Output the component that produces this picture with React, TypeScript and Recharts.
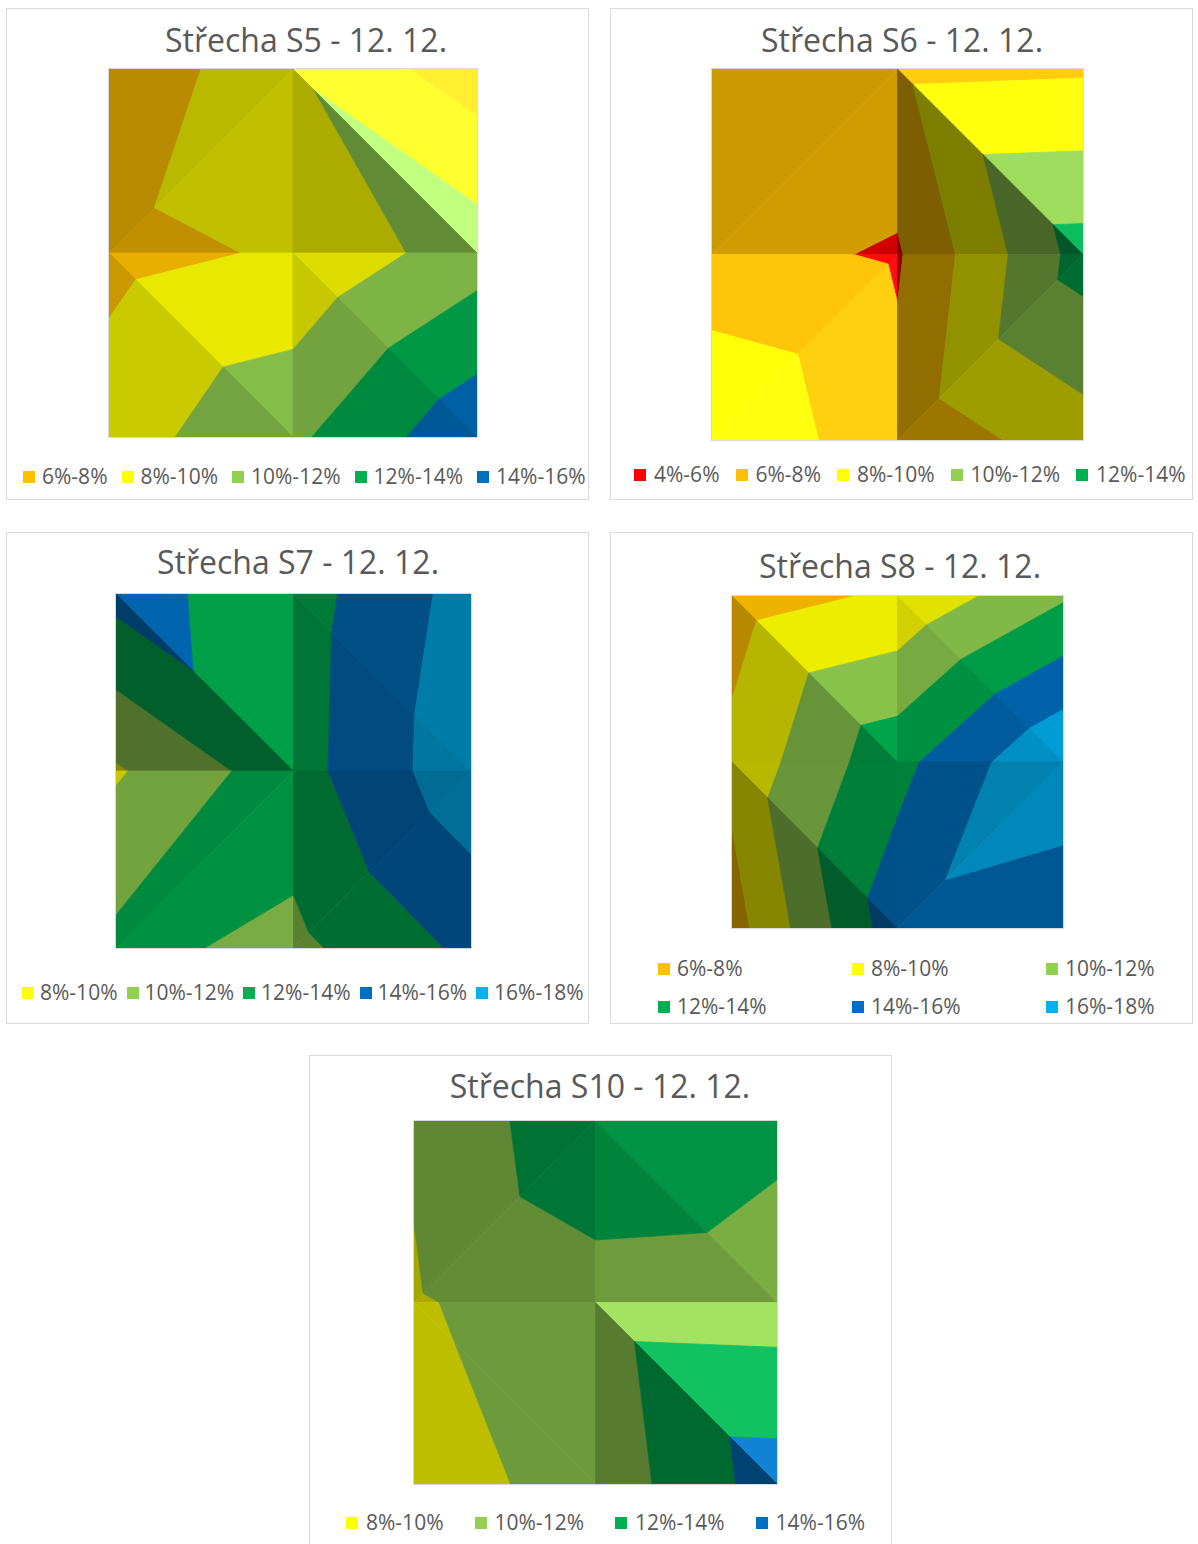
import React from 'react';
import { ScatterChart, Scatter, XAxis, YAxis } from 'recharts';

// Excel surface-chart bands: lower limit (%), colour, legend text
const bandStarts = [4, 6, 8, 10, 12, 14, 16];
const bandColors = ['#FF0000', '#FFC000', '#FFFF00', '#92D050', '#00B050', '#0070C0', '#00B0F0'];
const bandLabels = ['4%-6%', '6%-8%', '8%-10%', '10%-12%', '12%-14%', '14%-16%', '16%-18%'];

// moisture (%), 3 x 3 grid, rows top -> bottom
const s5Values = [
  [6.14, 9.86, 6.93],
  [7.39, 8.24, 11.1],
  [9.1, 11.6, 15.5],
];
const s6Values = [
  [6.4, 7.56, 7.75],
  [6.68, 5.79, 12.85],
  [9.9, 6.59, 9.07],
];
const s7Values = [
  [14.62, 13.08, 16.79],
  [9.77, 13.19, 17.36],
  [12.51, 11.49, 14.46],
];
const s8Values = [
  [7.06, 8.32, 11.75],
  [8.57, 13.4, 17.95],
  [7.14, 15.2, 14.05],
];
const s10Values = [
  [10.25, 13.56, 12.47],
  [9.81, 11.18, 11.02],
  [9.26, 10.65, 14.99],
];

type Diag = 'main' | 'anti';
type Pt = { x: number; y: number; z: number };

type LegendCfg =
  | { kind: 'row'; x: number; cy: number; gap: number; swatchGap: number }
  | { kind: 'grid'; cols: number[]; rows: number[]; swatchGap: number };

interface ChartCfg {
  title: string;
  values: number[][];
  min: number;
  max: number;
  diag: Diag[][];
  panel: { x: number; y: number };
  plot: { x: number; y: number; w: number; h: number };
  titleX: number;
  titleY: number;
  legend: LegendCfg;
}

const charts: ChartCfg[] = [
  {
    title: 'Střecha S5 - 12. 12.',
    values: s5Values,
    min: 6,
    max: 16,
    diag: [['anti', 'main'], ['main', 'main']],
    panel: { x: 6, y: 8 },
    plot: { x: 109, y: 69, w: 368, h: 368 },
    titleX: 306,
    titleY: 41,
    legend: { kind: 'row', x: 23, cy: 477, gap: 14, swatchGap: 7 },
  },
  {
    title: 'Střecha S6 - 12. 12.',
    values: s6Values,
    min: 4,
    max: 14,
    diag: [['anti', 'main'], ['anti', 'anti']],
    panel: { x: 610, y: 8 },
    plot: { x: 712, y: 69, w: 371, h: 371 },
    titleX: 902,
    titleY: 41,
    legend: { kind: 'row', x: 634, cy: 475, gap: 16, swatchGap: 8 },
  },
  {
    title: 'Střecha S7 - 12. 12.',
    values: s7Values,
    min: 8,
    max: 18,
    diag: [['main', 'main'], ['anti', 'anti']],
    panel: { x: 6, y: 532 },
    plot: { x: 116, y: 594, w: 355, h: 354 },
    titleX: 298,
    titleY: 563,
    legend: { kind: 'row', x: 22, cy: 993, gap: 9, swatchGap: 6 },
  },
  {
    title: 'Střecha S8 - 12. 12.',
    values: s8Values,
    min: 6,
    max: 18,
    diag: [['main', 'main'], ['main', 'anti']],
    panel: { x: 610, y: 532 },
    plot: { x: 732, y: 596, w: 331, h: 332 },
    titleX: 900,
    titleY: 567,
    legend: { kind: 'grid', cols: [658, 852, 1046], rows: [969, 1007], swatchGap: 7 },
  },
  {
    title: 'Střecha S10 - 12. 12.',
    values: s10Values,
    min: 8,
    max: 16,
    diag: [['anti', 'main'], ['main', 'main']],
    panel: { x: 309, y: 1055 },
    plot: { x: 414, y: 1121, w: 363, h: 363 },
    titleX: 600,
    titleY: 1087,
    legend: { kind: 'row', x: 346, cy: 1523, gap: 31, swatchGap: 8 },
  },
];

// keep the part of a polygon above (or below) a level, linear z along edges
function clip(poly: Pt[], level: number, above: boolean): Pt[] {
  const out: Pt[] = [];
  const inside = (p: Pt) => (above ? p.z >= level : p.z <= level);
  for (let i = 0; i < poly.length; i++) {
    const a = poly[i];
    const b = poly[(i + 1) % poly.length];
    const ia = inside(a);
    const ib = inside(b);
    if (ia) out.push(a);
    if (ia !== ib) {
      const t = (level - a.z) / (b.z - a.z);
      out.push({ x: a.x + t * (b.x - a.x), y: a.y + t * (b.y - a.y), z: level });
    }
  }
  return out;
}

function hexToRgb(hex: string) {
  const n = parseInt(hex.slice(1), 16);
  return [(n >> 16) & 255, (n >> 8) & 255, n & 255];
}

// rough imitation of Excel's 3D lighting seen from above
function shade(hex: string, f: number) {
  const k = Math.min(f, 1);
  const spec = Math.max(0, f - 0.95) * 1.3 * 255;
  const [r, g, b] = hexToRgb(hex).map((c) => Math.max(0, Math.min(255, Math.round(c * k + spec))));
  return `rgb(${r},${g},${b})`;
}

interface Facet {
  points: { x: number; y: number }[];
  color: string;
}

function buildFacets(c: ChartCfg): Facet[] {
  const facets: Facet[] = [];
  const zScale = 10 / (c.max - c.min);
  const P = (col: number, row: number): Pt => ({ x: col, y: row, z: c.values[row][col] });
  for (let j = 0; j < 2; j++) {
    for (let i = 0; i < 2; i++) {
      const a = P(i, j);
      const b = P(i + 1, j);
      const cc = P(i, j + 1);
      const d = P(i + 1, j + 1);
      const tris = c.diag[j][i] === 'main' ? [[a, b, d], [a, d, cc]] : [[a, b, cc], [b, d, cc]];
      tris.forEach((tri) => {
        const [p, q, r] = tri;
        const ux = q.x - p.x, uy = q.y - p.y, uz = q.z - p.z;
        const vx = r.x - p.x, vy = r.y - p.y, vz = r.z - p.z;
        const nx = uy * vz - uz * vy;
        const ny = uz * vx - ux * vz;
        const nz = ux * vy - uy * vx;
        const gx = (-nx / nz) * zScale;
        const gy = (-ny / nz) * zScale;
        const f = 0.838 - 0.041 * gx + 0.032 * gy;
        for (let lo = c.min; lo < c.max; lo += 2) {
          const part = clip(clip(tri, lo, true), lo + 2, false);
          if (part.length < 3) continue;
          const idx = bandStarts.indexOf(lo);
          facets.push({
            points: part.map((v) => ({ x: v.x, y: v.y })),
            color: shade(bandColors[idx], f),
          });
        }
      });
    }
  }
  return facets;
}

const noDot = () => <g />;

function polygonLine(color: string) {
  return (props: any) => {
    const pts: { x: number; y: number }[] = props.points || [];
    if (!pts.length) return <g />;
    const d = pts.map((p, i) => `${i ? 'L' : 'M'}${p.x},${p.y}`).join(' ') + ' Z';
    return <path d={d} fill={color} stroke={color} strokeWidth={0.8} strokeLinejoin="round" />;
  };
}

const textColor = '#595959';

function LegendItem({ lo, swatchGap }: { lo: number; swatchGap: number }) {
  const idx = bandStarts.indexOf(lo);
  return (
    <div style={{ display: 'flex', alignItems: 'center', whiteSpace: 'nowrap' }}>
      <div style={{ width: 12, height: 12, background: bandColors[idx], marginRight: swatchGap }} />
      <span>{bandLabels[idx]}</span>
    </div>
  );
}

function Panel({ c }: { c: ChartCfg }) {
  const facets = buildFacets(c);
  const bands: number[] = [];
  for (let lo = c.min; lo < c.max; lo += 2) bands.push(lo);
  const lg = c.legend;
  return (
    <>
      <div
        style={{
          position: 'absolute',
          left: c.panel.x,
          top: c.panel.y,
          width: 583,
          height: 492,
          border: '1px solid #D9D9D9',
          boxSizing: 'border-box',
        }}
      />
      <div
        style={{
          position: 'absolute',
          left: c.titleX - 300,
          width: 600,
          top: c.titleY - 17,
          fontSize: 32,
          lineHeight: '32px',
          textAlign: 'center',
          color: textColor,
          whiteSpace: 'nowrap',
        }}
      >
        {c.title}
      </div>
      <div style={{ position: 'absolute', left: c.plot.x, top: c.plot.y }}>
        <ScatterChart width={c.plot.w} height={c.plot.h} margin={{ top: 0, right: 0, bottom: 0, left: 0 }}>
          <XAxis type="number" dataKey="x" domain={[0, 2]} allowDataOverflow hide />
          <YAxis type="number" dataKey="y" domain={[0, 2]} allowDataOverflow reversed hide />
          {facets.map((f, k) => (
            <Scatter
              key={k}
              data={f.points}
              shape={noDot}
              line={polygonLine(f.color)}
              lineType="joint"
              isAnimationActive={false}
            />
          ))}
        </ScatterChart>
      </div>
      <div
        style={{
          position: 'absolute',
          left: c.plot.x - 1,
          top: c.plot.y - 1,
          width: c.plot.w + 2,
          height: c.plot.h + 2,
          border: '1px solid #D9D9D9',
          boxSizing: 'border-box',
          pointerEvents: 'none',
        }}
      />
      {lg.kind === 'row' ? (
        <div
          style={{
            position: 'absolute',
            left: lg.x,
            top: lg.cy - 11,
            display: 'flex',
            gap: lg.gap,
            fontSize: 21,
            lineHeight: '21px',
            color: textColor,
          }}
        >
          {bands.map((lo) => (
            <LegendItem key={lo} lo={lo} swatchGap={lg.swatchGap} />
          ))}
        </div>
      ) : (
        bands.map((lo, k) => (
          <div
            key={lo}
            style={{
              position: 'absolute',
              left: lg.cols[k % lg.cols.length],
              top: lg.rows[Math.floor(k / lg.cols.length)] - 11,
              fontSize: 21,
              lineHeight: '21px',
              color: textColor,
            }}
          >
            <LegendItem lo={lo} swatchGap={lg.swatchGap} />
          </div>
        ))
      )}
    </>
  );
}

export default function App() {
  return (
    <div
      style={{
        position: 'absolute',
        left: 0,
        top: 0,
        width: 1198,
        height: 1544,
        background: '#ffffff',
        overflow: 'hidden',
        fontFamily: '"Open Sans", sans-serif',
      }}
    >
      {charts.map((c) => (
        <Panel key={c.title} c={c} />
      ))}
    </div>
  );
}
